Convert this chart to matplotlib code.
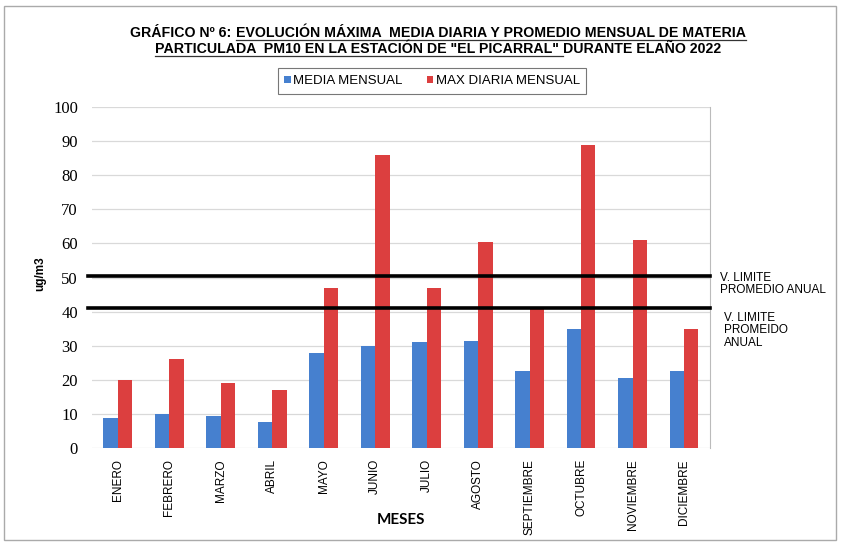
import numpy as np
import matplotlib
matplotlib.use('Agg')
import matplotlib.pyplot as plt
from matplotlib.patches import Rectangle

# datos
meses = ['ENERO', 'FEBRERO', 'MARZO', 'ABRIL', 'MAYO', 'JUNIO', 'JULIO',
         'AGOSTO', 'SEPTIEMBRE', 'OCTUBRE', 'NOVIEMBRE', 'DICIEMBRE']
media_mensual = [8.8, 10.0, 9.3, 7.7, 28.0, 30.0, 31.0, 31.5, 22.5, 35.0, 20.5, 22.5]
max_diaria = [20.0, 26.0, 19.0, 17.0, 47.0, 86.0, 47.0, 60.5, 41.0, 89.0, 61.0, 35.0]
limites = [50.5, 41.0]
limite_textos = ['V. LIMITE\nPROMEDIO ANUAL', 'V. LIMITE\nPROMEIDO\nANUAL']

azul = '#4680CF'
rojo = '#DC3F3F'
fuente = 'Liberation Sans'

fig = plt.figure(figsize=(8.43, 5.46), dpi=100)
ax = fig.add_axes([0.109, 0.1795, 0.733, 0.6245])

x = np.arange(len(meses))
w = 0.28
ax.bar(x - w / 2, media_mensual, w, color=azul, label='MEDIA MENSUAL', zorder=3)
ax.bar(x + w / 2, max_diaria, w, color=rojo, label='MAX DIARIA MENSUAL', zorder=3)

for v in limites:
    ax.axhline(v, xmin=-0.007, xmax=1.0, color='black', lw=2.6, zorder=4, clip_on=False)

ax.set_xlim(-0.5, len(meses) - 0.5)
ax.set_ylim(0, 100)
ax.set_yticks(range(0, 101, 10))
ax.yaxis.grid(True, color='#d9d9d9', lw=0.9, zorder=0)
ax.tick_params(axis='y', length=0, labelsize=12, pad=10)
ax.tick_params(axis='x', length=0, pad=8)
for lbl in ax.get_yticklabels():
    lbl.set_family('Liberation Serif')
ax.set_xticks(x)
ax.set_xticklabels(meses, rotation=90, fontsize=8.5, family=fuente)
for s in ['top', 'left', 'bottom']:
    ax.spines[s].set_visible(False)
ax.spines['right'].set_color('#bbbbbb')

ax.set_ylabel('ug/m3', fontsize=8.5, fontweight='bold', family=fuente)
ax.yaxis.set_label_coords(-0.074, 0.51)
ax.set_xlabel('MESES', fontsize=11, fontweight='bold', family='Lato')
ax.xaxis.set_label_coords(0.5, -0.19)

# textos de los limites
fig.text(720 / 843, 1 - 272 / 546, limite_textos[0], fontsize=8.5, family=fuente,
         va='top', ha='left', linespacing=1.05)
fig.text(724 / 843, 1 - 312 / 546, limite_textos[1], fontsize=8.5, family=fuente,
         va='top', ha='left', linespacing=1.05)

# leyenda
leg = fig.legend(loc='center', bbox_to_anchor=(432 / 843, 1 - 81 / 546), ncol=2,
                 frameon=True, fancybox=False, edgecolor='#555555', handlelength=0.5,
                 handleheight=0.5, handletextpad=0.2, columnspacing=1.8,
                 prop={'family': fuente, 'size': 9.5}, borderpad=0.5)
leg.get_frame().set_linewidth(0.8)

# titulo con subrayado parcial
fig.canvas.draw()
r = fig.canvas.get_renderer()


def linea_titulo(partes, y):
    objs = [fig.text(0, y, p, fontsize=10.2, fontweight='bold', family=fuente, va='baseline')
            for p, _ in partes]
    anchos = [o.get_window_extent(r).width for o in objs]
    total = sum(anchos)
    xpix = 438 / 843 * fig.bbox.width - total / 2
    for o, a, (p, sub) in zip(objs, anchos, partes):
        o.set_x(xpix / fig.bbox.width)
        if sub:
            x1 = xpix / fig.bbox.width
            x2 = (xpix + a) / fig.bbox.width
            yl = y - 2.5 / fig.bbox.height
            fig.add_artist(plt.Line2D([x1, x2], [yl, yl], color='#333333', lw=0.9,
                                      transform=fig.transFigure))
        xpix += a


linea_titulo([('GRÁFICO Nº 6: ', False),
              ('EVOLUCIÓN MÁXIMA  MEDIA DIARIA Y PROMEDIO MENSUAL DE MATERIA', True)],
             1 - 37 / 546)
linea_titulo([('PARTICULADA  PM10 EN LA ESTACIÓN DE "EL PICARRAL" ', True),
              ('DURANTE ELAÑO 2022', False)], 1 - 53 / 546)

# marco exterior
fig.add_artist(Rectangle((4 / 843, 6 / 546), 832 / 843, 534 / 546, fill=False,
                         edgecolor='#aaaaaa', lw=1, transform=fig.transFigure))

fig.savefig('out.png', dpi=100)
